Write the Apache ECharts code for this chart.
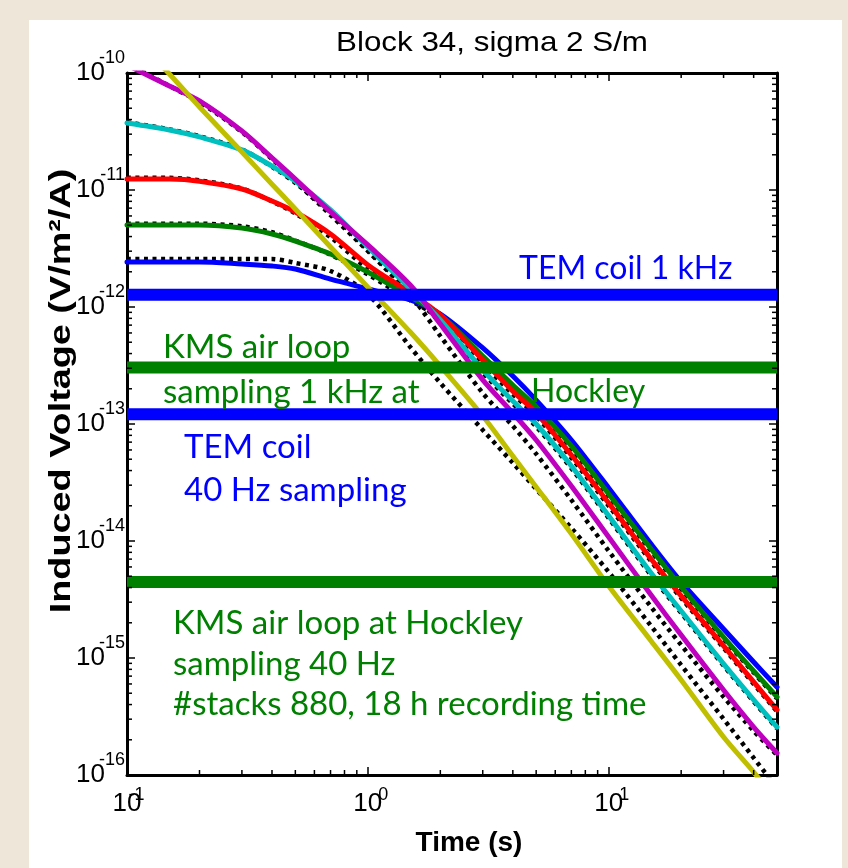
<!DOCTYPE html>
<html>
<head>
<meta charset="utf-8">
<script src="https://cdn.jsdelivr.net/npm/echarts@6/dist/echarts.min.js"></script>
<style>
  html, body { margin: 0; padding: 0; background: #efe6da; }
  #paper { position: absolute; left: 29px; top: 20px; width: 813px; height: 848px; background: #ffffff; }
  #c { position: absolute; left: 0; top: 0; width: 848px; height: 868px; }
</style>
</head>
<body>
<div id="paper"></div>
<div id="c"></div>
<script>
// ---------------- data ----------------
const times = [0.1, 0.15, 0.2, 0.3, 0.4, 0.5, 0.7, 1, 1.5, 2, 3, 4, 5, 7, 10, 15, 20, 30, 40, 50];

const blueVals    = [2.43e-12, 2.43e-12, 2.43e-12, 2.33e-12, 2.24e-12, 2.11e-12, 1.73e-12, 1.43e-12, 1.15e-12, 8.71e-13, 4.47e-13, 2.57e-13, 1.60e-13, 7.3e-14, 2.84e-14, 9.42e-15, 4.47e-15, 1.77e-15, 9.25e-16, 5.65e-16];
const greenVals   = [5.02e-12, 5.02e-12, 5.02e-12, 4.73e-12, 4.21e-12, 3.66e-12, 2.84e-12, 1.99e-12, 1.22e-12, 8.55e-13, 3.81e-13, 2.15e-13, 1.40e-13, 6.49e-14, 2.52e-14, 8.55e-15, 4.05e-15, 1.51e-15, 7.74e-16, 4.65e-16];
const redVals     = [1.24e-11, 1.24e-11, 1.19e-11, 1.02e-11, 8.05e-12, 6.49e-12, 4.21e-12, 2.29e-12, 1.32e-12, 8.55e-13, 3.52e-13, 1.91e-13, 1.24e-13, 5.43e-14, 2.11e-14, 7.02e-15, 3.39e-15, 1.27e-15, 6.24e-16, 3.60e-16];
const cyanVals    = [3.74e-11, 3.26e-11, 2.84e-11, 2.20e-11, 1.60e-11, 1.19e-11, 6.75e-12, 3.26e-12, 1.43e-12, 7.74e-13, 2.90e-13, 1.57e-13, 1.0e-13, 4.38e-14, 1.64e-14, 5.32e-15, 2.52e-15, 8.9e-16, 4.38e-16, 2.57e-16];
const magentaVals = [1.17e-10, 7.74e-11, 5.77e-11, 3.19e-11, 1.88e-11, 1.24e-11, 6.49e-12, 3.39e-12, 1.54e-12, 7.16e-13, 2.38e-13, 1.24e-13, 7.3e-14, 2.95e-14, 1.08e-14, 3.45e-15, 1.57e-15, 5.32e-16, 2.57e-16, 1.54e-16];
const yellowVals  = [2.38e-10, 9.8e-11, 5.12e-11, 2.11e-11, 1.12e-11, 6.89e-12, 3.26e-12, 1.48e-12, 6.11e-13, 3.13e-13, 1.17e-13, 5.32e-14, 2.90e-14, 1.15e-14, 4.12e-15, 1.40e-15, 6.49e-16, 2.11e-16, 1.06e-16, 5.87e-17];

// black dotted reference curves
const dottedA = [2.57e-12, 2.57e-12, 2.57e-12, 2.57e-12, 2.57e-12, 2.38e-12, 2.03e-12, 1.29e-12, 4.55e-13, 2.24e-13, 8.89e-14, 4.65e-14, 2.78e-14, 1.29e-14, 5.43e-15, 1.88e-15, 8.7e-16, 3.01e-16, 1.40e-16, 7.74e-17];
const dottedB = [1.22e-10, 7.74e-11, 5.65e-11, 3.13e-11, 1.84e-11, 1.19e-11, 6.11e-12, 3.01e-12, 1.27e-12, 5.65e-13, 1.84e-13, 9.62e-14, 5.55e-14, 2.24e-14, 8.22e-15, 2.73e-15, 1.29e-15, 4.65e-16, 2.38e-16, 1.48e-16];
const dottedC = [3.8e-11, 3.3e-11, 2.88e-11, 2.22e-11, 1.58e-11, 1.15e-11, 6.4e-12, 3.05e-12, 1.34e-12, 7.3e-13, 2.75e-13, 1.49e-13, 9.5e-14, 4.18e-14, 1.57e-14, 5.1e-15, 2.43e-15, 8.6e-16, 4.25e-16, 2.5e-16];
const dottedD = [1.27e-11, 1.27e-11, 1.21e-11, 1.03e-11, 8.0e-12, 6.3e-12, 3.95e-12, 2.12e-12, 1.23e-12, 8.0e-13, 3.3e-13, 1.8e-13, 1.17e-13, 5.15e-14, 2.0e-14, 6.7e-15, 3.25e-15, 1.22e-15, 6.0e-16, 3.5e-16];
const dottedE = [5.15e-12, 5.15e-12, 5.15e-12, 4.9e-12, 4.35e-12, 3.7e-12, 2.8e-12, 1.9e-12, 1.14e-12, 8.0e-13, 3.6e-13, 2.03e-13, 1.32e-13, 6.15e-14, 2.4e-14, 8.2e-15, 3.9e-15, 1.46e-15, 7.5e-16, 4.5e-16];

// horizontal noise levels
const bandTEM1k   = 1.27e-12;
const bandKMS1k   = 3.04e-13;
const bandTEM40   = 1.21e-13;
const bandKMS40   = 4.47e-15;

// axes
const xRange = [0.1, 50];
const yRange = [1e-16, 1e-10];
const xMinorTicks = [0.2, 0.3, 0.4, 0.5, 0.6, 0.7, 0.8, 0.9, 2, 3, 4, 5, 6, 7, 8, 9, 20, 30, 40];
const yDecades = [1e-16, 1e-15, 1e-14, 1e-13, 1e-12, 1e-11];
const minorMult = [2, 3, 4, 5, 6, 7, 8, 9];

// ---------------- chart ----------------
const FONT = "'Liberation Sans', Arial, Helvetica, sans-serif";
const ANN = "Lato, 'Open Sans', sans-serif";
const chart = echarts.init(document.getElementById('c'), null, { renderer: 'canvas' });

function pairs(vals) { return times.map((t, i) => [t, vals[i]]); }
function expOf(v) { return Math.round(Math.log10(v)); }
function isDecade(v) { const e = expOf(v); return Math.abs(v / Math.pow(10, e) - 1) < 1e-6; }

const minorData = [];
xMinorTicks.forEach(v => minorData.push([v, yRange[0], 0]));
yDecades.forEach(d => minorMult.forEach(m => minorData.push([xRange[0], m * d, 1])));

function curve(name, vals, color) {
  return { name, type: 'line', data: pairs(vals), symbol: 'none', smooth: 0.3, z: 3,
    lineStyle: { color, width: 5, cap: 'round', join: 'round' }, silent: true, animation: false };
}
function dotted(name, vals) {
  return { name, type: 'line', data: pairs(vals), symbol: 'none', smooth: 0.3, z: 2,
    lineStyle: { color: '#000', width: 4.5, type: [4, 4.5], cap: 'butt' }, silent: true, animation: false };
}
function band(name, v, color) {
  return { name, type: 'line', data: [[xRange[0], v], [xRange[1], v]], symbol: 'none', z: 4,
    lineStyle: { color, width: 12, cap: 'butt' }, silent: true, animation: false };
}

const axisCommon = {
  type: 'log', logBase: 10,
  axisLine: { show: true, onZero: false, lineStyle: { color: '#000', width: 3 } },
  axisTick: { show: true, inside: true, length: 8, lineStyle: { color: '#000', width: 1.5 } },
  splitLine: { show: false }, minorTick: { show: false }, minorSplitLine: { show: false }
};

function ann(text, x, y, color, size) {
  return { type: 'text', x, y, z: 100, style: { text, font: (size || 33) + "px " + ANN, fill: color, align: 'left', verticalAlign: 'middle' } };
}

const option = {
  animation: false,
  backgroundColor: 'transparent',
  grid: { left: 127, right: 71, top: 73, bottom: 93, containLabel: false },
  xAxis: [
    Object.assign({}, axisCommon, { min: xRange[0], max: xRange[1], position: 'bottom',
      axisLabel: { margin: 14, formatter: v => isDecade(v) ? '{b|10}' : '',
        rich: { b: { fontFamily: FONT, fontSize: 26, color: '#000', lineHeight: 30 } } } }),
    Object.assign({}, axisCommon, { min: xRange[0], max: xRange[1], position: 'top', axisLabel: { show: false } }),
    Object.assign({}, axisCommon, { min: xRange[0], max: xRange[1], position: 'bottom',
      axisLine: { show: false }, axisTick: { show: false },
      axisLabel: { margin: 11, formatter: v => { if (!isDecade(v)) return ''; const e = expOf(v); return e < 0 ? '{n|' + e + '}' : '{p|' + e + '}'; },
        rich: { n: { fontFamily: FONT, fontSize: 18, color: '#000', lineHeight: 18, padding: [0, 0, 0, 19] },
                p: { fontFamily: FONT, fontSize: 18, color: '#000', lineHeight: 18, padding: [0, 0, 0, 31] } } } })
  ],
  yAxis: [
    Object.assign({}, axisCommon, { min: yRange[0], max: yRange[1], position: 'left',
      axisLabel: { margin: 22, formatter: v => isDecade(v) ? '10' : '', fontFamily: FONT, fontSize: 26, color: '#000' } }),
    Object.assign({}, axisCommon, { min: yRange[0], max: yRange[1], position: 'right', axisLabel: { show: false } }),
    Object.assign({}, axisCommon, { min: yRange[0], max: yRange[1], position: 'left',
      axisLine: { show: false }, axisTick: { show: false },
      axisLabel: { margin: 2, formatter: v => isDecade(v) ? '{s|' + expOf(v) + '}' : '',
        rich: { s: { fontFamily: FONT, fontSize: 18, color: '#000', lineHeight: 18, padding: [0, 0, 30, 0] } } } })
  ],
  series: [
    dotted('model A', dottedA),
    dotted('model B', dottedB),
    dotted('model C', dottedC),
    dotted('model D', dottedD),
    dotted('model E', dottedE),
    curve('blue', blueVals, '#0000ff'),
    curve('green', greenVals, '#008000'),
    curve('red', redVals, '#ff0000'),
    curve('cyan', cyanVals, '#00bfbf'),
    curve('magenta', magentaVals, '#bf00bf'),
    curve('yellow', yellowVals, '#bfbf00'),
    band('TEM coil 1 kHz', bandTEM1k, '#0000ff'),
    band('KMS air loop 1 kHz', bandKMS1k, '#008000'),
    band('TEM coil 40 Hz', bandTEM40, '#0000ff'),
    band('KMS air loop 40 Hz', bandKMS40, '#008000'),
    {
      type: 'custom', name: 'minor ticks', silent: true, z: 6, clip: false,
      dimensions: ['x', 'y', 'k'], encode: { x: 0, y: 1 },
      data: minorData,
      renderItem: function (params, api) {
        const bl = api.coord([xRange[0], yRange[0]]);
        const tr = api.coord([xRange[1], yRange[1]]);
        const st = { stroke: '#000', lineWidth: 1.5 };
        if (api.value(2) === 0) {
          const x = api.coord([api.value(0), yRange[0]])[0];
          return { type: 'group', children: [
            { type: 'line', shape: { x1: x, y1: bl[1], x2: x, y2: bl[1] - 5 }, style: st },
            { type: 'line', shape: { x1: x, y1: tr[1], x2: x, y2: tr[1] + 5 }, style: st } ] };
        } else {
          const y = api.coord([xRange[0], api.value(1)])[1];
          return { type: 'group', children: [
            { type: 'line', shape: { x1: bl[0], y1: y, x2: bl[0] + 5, y2: y }, style: st },
            { type: 'line', shape: { x1: tr[0], y1: y, x2: tr[0] - 5, y2: y }, style: st } ] };
        }
      }
    }
  ],
  graphic: [
    { type: 'text', x: 492, y: 43, z: 100, scaleX: 1.12, style: { text: 'Block 34, sigma 2 S/m', font: "28px " + FONT, fill: '#000', align: 'center', verticalAlign: 'middle' } },
    { type: 'text', x: 469, y: 843, z: 100, style: { text: 'Time (s)', font: "bold 28px " + FONT, fill: '#000', align: 'center', verticalAlign: 'middle' } },
    { type: 'text', x: 62, y: 391, z: 100, rotation: Math.PI / 2, scaleX: 1.26, style: { text: 'Induced Voltage (V/m²/A)', font: "bold 30px " + FONT, fill: '#000', align: 'center', verticalAlign: 'middle' } },
    ann('TEM coil 1 kHz', 519, 269, '#0000ff', 32),
    ann('KMS air loop', 163, 347, '#008000'),
    ann('sampling 1 kHz at', 163, 392, '#008000'),
    ann('Hockley', 531, 392, '#008000', 32),
    ann('TEM coil', 184, 447, '#0000ff'),
    ann('40 Hz sampling', 184, 490, '#0000ff'),
    ann('KMS air loop at Hockley', 173, 623, '#008000'),
    ann('sampling 40 Hz', 173, 664, '#008000'),
    ann('#stacks 880, 18 h recording time', 173, 704, '#008000')
  ]
};
chart.setOption(option);
</script>
</body>
</html>
